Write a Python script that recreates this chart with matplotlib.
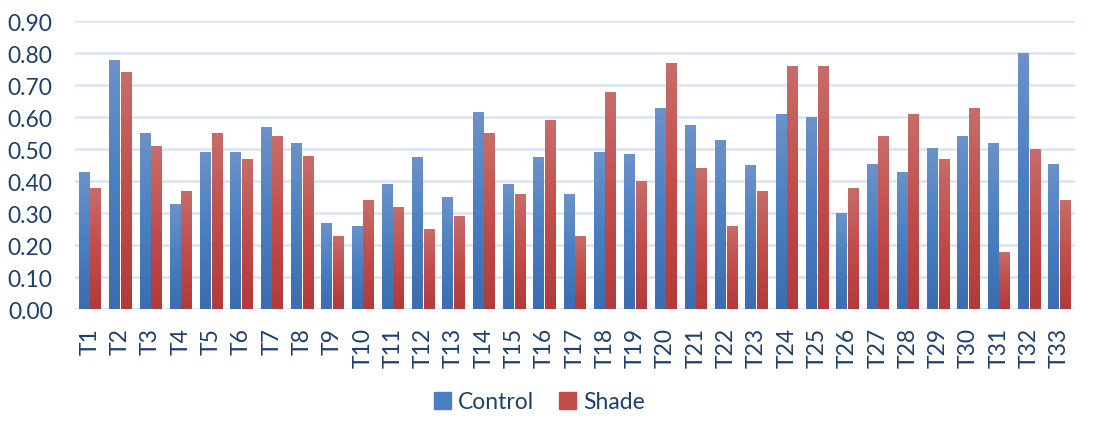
import numpy as np
import matplotlib.pyplot as plt
from matplotlib.colors import LinearSegmentedColormap
from matplotlib.patches import Patch

plt.rcParams['font.family'] = ['Lato', 'DejaVu Sans']

# per-treatment means
labels = ['T%d' % i for i in range(1, 34)]
control = [0.43, 0.78, 0.55, 0.33, 0.49, 0.49, 0.57, 0.52, 0.27, 0.26,
           0.39, 0.475, 0.35, 0.615, 0.39, 0.475, 0.36, 0.49, 0.485, 0.63,
           0.575, 0.53, 0.45, 0.61, 0.60, 0.30, 0.455, 0.43, 0.505, 0.54,
           0.52, 0.80, 0.455]
shade = [0.38, 0.74, 0.51, 0.37, 0.55, 0.47, 0.54, 0.48, 0.23, 0.34,
         0.32, 0.25, 0.29, 0.55, 0.36, 0.59, 0.23, 0.68, 0.40, 0.77,
         0.44, 0.26, 0.37, 0.76, 0.76, 0.38, 0.54, 0.61, 0.47, 0.63,
         0.18, 0.50, 0.34]

text_col = '#1f3f6e'
grid_col = '#d9e4f3'
blue_grad = LinearSegmentedColormap.from_list('b', ['#3b6db0', '#4a7fc2', '#6c92c9'])
red_grad = LinearSegmentedColormap.from_list('r', ['#b33a3a', '#c24d4a', '#c76d6a'])

fig = plt.figure(figsize=(11.01, 4.35), dpi=100)
ax = fig.add_axes([0.068, 0.287, 0.908, 0.662])

x = np.arange(len(labels))
w = 0.35
off = 0.19
b1 = ax.bar(x - off, control, w, color='#4a7fc2', zorder=2)
b2 = ax.bar(x + off, shade, w, color='#c24d4a', zorder=2)

# vertical gradient fill clipped to each bar
grad = np.linspace(0, 1, 256).reshape(-1, 1)
for bars, cmap in [(b1, blue_grad), (b2, red_grad)]:
    for p in bars:
        x0, h, bw = p.get_x(), p.get_height(), p.get_width()
        im = ax.imshow(grad, cmap=cmap, origin='lower', aspect='auto',
                       extent=[x0, x0 + bw, 0, h], zorder=3)
        im.set_clip_path(p)
        p.set_facecolor('none')

ax.set_xlim(-0.5, len(labels) - 0.5)
ax.set_ylim(0, 0.9)
ax.set_yticks(np.arange(0, 0.91, 0.1))
ax.set_yticklabels(['%.2f' % v for v in np.arange(0, 0.91, 0.1)])
ax.set_xticks(x)
ax.set_xticklabels(labels, rotation=90)
ax.tick_params(length=0, labelsize=16.5, colors=text_col)
ax.tick_params(axis='y', pad=16)
ax.tick_params(axis='x', pad=13)
ax.yaxis.grid(True, color=grid_col, lw=1.8, zorder=0)
ax.set_axisbelow(True)
for s in ax.spines.values():
    s.set_visible(False)

handles = [Patch(color='#4a7fc2'), Patch(color='#c24d4a')]
leg = fig.legend(handles, ['Control', 'Shade'], loc='center',
                 bbox_to_anchor=(0.49, 0.074), ncol=2, frameon=False,
                 fontsize=16.5, handlelength=0.75, handleheight=0.75,
                 handletextpad=0.3, columnspacing=1.1)
for t in leg.get_texts():
    t.set_color(text_col)

fig.savefig('out.png', dpi=100)
